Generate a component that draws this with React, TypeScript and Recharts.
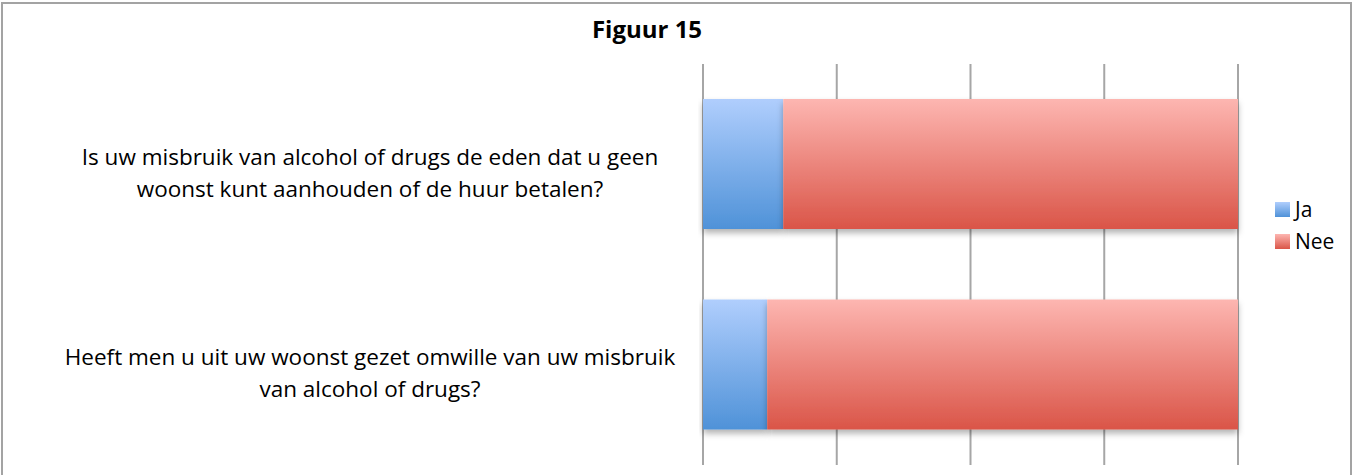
import React from "react";
import { BarChart, Bar, XAxis, YAxis, CartesianGrid } from "recharts";

const categories = [
  "Is uw misbruik van alcohol of drugs de eden dat u geen\nwoonst kunt aanhouden of de huur betalen?",
  "Heeft men u uit uw woonst gezet omwille van uw misbruik\nvan alcohol of drugs?",
];
const jaValues = [15, 12];
const neeValues = [85, 88];
const xTicks = [0, 25, 50, 75, 100];

const seriesList = [
  { key: "Ja", top: "#B0CEFD", bottom: "#4F92D8" },
  { key: "Nee", top: "#FDB6B1", bottom: "#DA5548" },
];

const data = categories.map((name, i) => ({
  name,
  Ja: jaValues[i],
  Nee: neeValues[i],
}));

const FONT = "'Open Sans', sans-serif";

// category labels, centered in the label box, two lines each
const CategoryTick = (props: any) => {
  const { y, payload } = props;
  const lines = String(payload.value).split("\n");
  return (
    <g>
      {lines.map((line: string, i: number) => (
        <text
          key={i}
          x={370}
          y={y - 8 + i * 32}
          textAnchor="middle"
          dominantBaseline="central"
          fontSize={22.5}
          fontFamily={FONT}
          fill="#000"
        >
          {line}
        </text>
      ))}
    </g>
  );
};

const ShadowBar = (props: any) => {
  const { x, y, width, height, fill } = props;
  return (
    <rect
      x={x}
      y={y}
      width={width}
      height={height}
      fill={fill}
      filter="url(#barShadow)"
    />
  );
};

export default function App() {
  return (
    <div
      style={{
        position: "absolute",
        left: 0,
        top: 0,
        width: 1353,
        height: 475,
        overflow: "hidden",
        background: "#fff",
      }}
    >
      <div
        style={{
          position: "absolute",
          left: 1,
          top: 2,
          width: 1347,
          height: 500,
          border: "2px solid #A3A3A3",
        }}
      />
      <div
        style={{
          position: "absolute",
          left: 0,
          top: 12,
          width: 1294,
          textAlign: "center",
          fontFamily: FONT,
          fontWeight: 700,
          fontSize: 24,
        }}
      >
        Figuur 15
      </div>
      <div style={{ position: "absolute", left: 0, top: 0 }}>
        <BarChart
          width={1353}
          height={475}
          data={data}
          layout="vertical"
          margin={{ top: 64, right: 115, bottom: 10, left: 0 }}
          barSize={130}
        >
          <defs>
            {seriesList.map((s) => (
              <linearGradient key={s.key} id={"grad" + s.key} x1="0" y1="0" x2="0" y2="1">
                <stop offset="0%" stopColor={s.top} />
                <stop offset="100%" stopColor={s.bottom} />
              </linearGradient>
            ))}
            <filter id="barShadow" x="-5%" y="-10%" width="110%" height="130%">
              <feDropShadow dx="0" dy="4" stdDeviation="3" floodColor="#000" floodOpacity="0.3" />
            </filter>
          </defs>
          <CartesianGrid horizontal={false} stroke="#A6A6A6" strokeWidth={2} />
          <XAxis type="number" domain={[0, 100]} ticks={xTicks} hide />
          <YAxis
            type="category"
            dataKey="name"
            width={703}
            axisLine={false}
            tickLine={false}
            tick={<CategoryTick />}
          />
          {seriesList.map((s) => (
            <Bar
              key={s.key}
              dataKey={s.key}
              stackId="a"
              fill={"url(#grad" + s.key + ")"}
              shape={<ShadowBar />}
              isAnimationActive={false}
            />
          ))}
        </BarChart>
      </div>
      {/* legend */}
      <div
        style={{
          position: "absolute",
          left: 1275,
          top: 193,
          fontFamily: FONT,
          fontSize: 21,
          lineHeight: "32px",
        }}
      >
        {seriesList.map((s) => (
          <div key={s.key} style={{ display: "flex", alignItems: "center" }}>
            <div
              style={{
                width: 15,
                height: 15,
                marginRight: 5,
                background: `linear-gradient(${s.top}, ${s.bottom})`,
              }}
            />
            <span>{s.key}</span>
          </div>
        ))}
      </div>
    </div>
  );
}
